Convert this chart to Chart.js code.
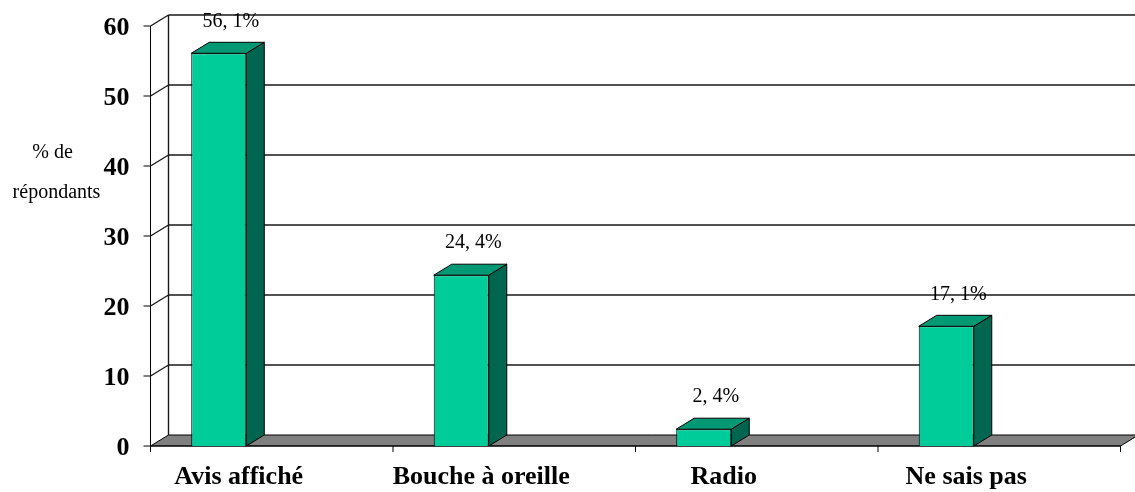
<!DOCTYPE html>
<html>
<head>
<meta charset="utf-8">
<script src="https://cdn.jsdelivr.net/npm/chart.js@4/dist/chart.umd.min.js"></script>
<style>
  html, body { margin: 0; padding: 0; background: #fff; }
  #wrap { width: 1135px; height: 492px; }
</style>
</head>
<body>
<div id="wrap"><canvas id="barChart"></canvas></div>
<script>
// data
const categories = ['Avis affiché', 'Bouche à oreille', 'Radio', 'Ne sais pas'];
const percents = [56.1, 24.4, 2.4, 17.1];
const yTicks = [0, 10, 20, 30, 40, 50, 60];
const yTitle = ['% de', 'répondants'];

// 3D look (Excel style)
const DX = 18, DY = -11;     // depth of the box
const SHIFT = 53;            // front frame sits right of the bar columns
const FONT = '"Liberation Serif", "Times New Roman", serif';

const frame3d = {
    id: 'frame3d',
    beforeDatasetsDraw(chart) {
        const ctx = chart.ctx;
        const {left, right, top, bottom} = chart.chartArea;
        const ys = chart.scales.y;
        const fx0 = left + SHIFT, fx1 = right + SHIFT;
        const bx0 = fx0 + DX;
        const W = chart.width;
        const catW = (right - left) / categories.length;

        ctx.save();
        // back wall + grid lines
        ctx.strokeStyle = '#1a1a1a';
        ctx.lineWidth = 1.4;
        ctx.beginPath();
        ctx.moveTo(bx0, top + DY);
        ctx.lineTo(bx0, bottom + DY);
        yTicks.forEach(v => {
            if (v === 0) return;
            const py = ys.getPixelForValue(v);
            ctx.moveTo(bx0, py + DY);
            ctx.lineTo(W, py + DY);
            // side wall diagonal
            ctx.moveTo(fx0, py);
            ctx.lineTo(bx0, py + DY);
        });
        ctx.stroke();

        // floor
        ctx.fillStyle = '#808080';
        ctx.strokeStyle = '#000';
        ctx.lineWidth = 1;
        ctx.beginPath();
        ctx.moveTo(fx0, bottom);
        ctx.lineTo(fx1, bottom);
        ctx.lineTo(fx1 + DX, bottom + DY);
        ctx.lineTo(fx0 + DX, bottom + DY);
        ctx.closePath();
        ctx.fill();
        ctx.stroke();

        // front value axis
        ctx.beginPath();
        ctx.moveTo(fx0, top);
        ctx.lineTo(fx0, bottom);
        yTicks.forEach(v => {
            const py = ys.getPixelForValue(v);
            ctx.moveTo(fx0 - 7, py);
            ctx.lineTo(fx0, py);
        });
        // front category axis
        ctx.moveTo(fx0, bottom);
        ctx.lineTo(fx1, bottom);
        for (let i = 0; i <= categories.length; i++) {
            const px = fx0 + i * catW;
            ctx.moveTo(px, bottom);
            ctx.lineTo(px, bottom + 6);
        }
        ctx.stroke();

        // y tick labels
        ctx.fillStyle = '#000';
        ctx.font = 'bold 26px ' + FONT;
        ctx.textAlign = 'right';
        ctx.textBaseline = 'middle';
        yTicks.forEach(v => {
            ctx.fillText(String(v), fx0 - 21, ys.getPixelForValue(v) + 2);
        });

        // axis title
        ctx.font = '20px ' + FONT;
        ctx.textAlign = 'center';
        ctx.fillText(yTitle[0], fx0 - 98, 153);
        ctx.fillText(yTitle[1], fx0 - 94, 193);

        // bar tops and sides (front face is drawn by Chart.js on top)
        const meta = chart.getDatasetMeta(0);
        meta.data.forEach(bar => {
            const {x, y, base, width} = bar.getProps(['x', 'y', 'base', 'width'], true);
            const l = x - width / 2, r = x + width / 2;
            ctx.fillStyle = '#006650';
            ctx.beginPath();
            ctx.moveTo(r, y);
            ctx.lineTo(r + DX, y + DY);
            ctx.lineTo(r + DX, base + DY);
            ctx.lineTo(r, base);
            ctx.closePath();
            ctx.fill();
            ctx.stroke();
            ctx.fillStyle = '#009973';
            ctx.beginPath();
            ctx.moveTo(l, y);
            ctx.lineTo(r, y);
            ctx.lineTo(r + DX, y + DY);
            ctx.lineTo(l + DX, y + DY);
            ctx.closePath();
            ctx.fill();
            ctx.stroke();
        });
        ctx.restore();
    },
    afterDatasetsDraw(chart) {
        const ctx = chart.ctx;
        const meta = chart.getDatasetMeta(0);
        ctx.save();
        ctx.fillStyle = '#000';
        ctx.font = '20px ' + FONT;
        ctx.textAlign = 'center';
        ctx.textBaseline = 'middle';
        meta.data.forEach((bar, i) => {
            const txt = String(percents[i]).replace('.', ', ') + '%';
            ctx.fillText(txt, bar.x + 12, bar.y - 32);
        });
        ctx.restore();
    }
};

const myBarChart = new Chart(document.getElementById('barChart'), {
    type: 'bar',
    data: {
        labels: categories,
        datasets: [{
            data: percents,
            backgroundColor: '#00CC99',
            borderColor: '#000',
            borderWidth: 1,
            barPercentage: 0.227,
            categoryPercentage: 1
        }]
    },
    options: {
        responsive: true,
        maintainAspectRatio: false,
        animation: false,
        layout: { padding: { left: 97.5, right: 67.5, top: 26, bottom: 0 } },
        scales: {
            x: {
                grid: { display: false, drawTicks: false },
                border: { display: false },
                ticks: {
                    color: '#000',
                    font: { family: FONT, size: 26, weight: 'bold' },
                    labelOffset: 20,
                    padding: 16,
                    maxRotation: 0,
                    autoSkip: false
                },
                afterFit: scale => { scale.height = 46; }
            },
            y: {
                display: false,
                min: 0,
                max: 60
            }
        },
        plugins: {
            legend: { display: false },
            tooltip: { enabled: false }
        }
    },
    plugins: [frame3d]
});
</script>
</body>
</html>
